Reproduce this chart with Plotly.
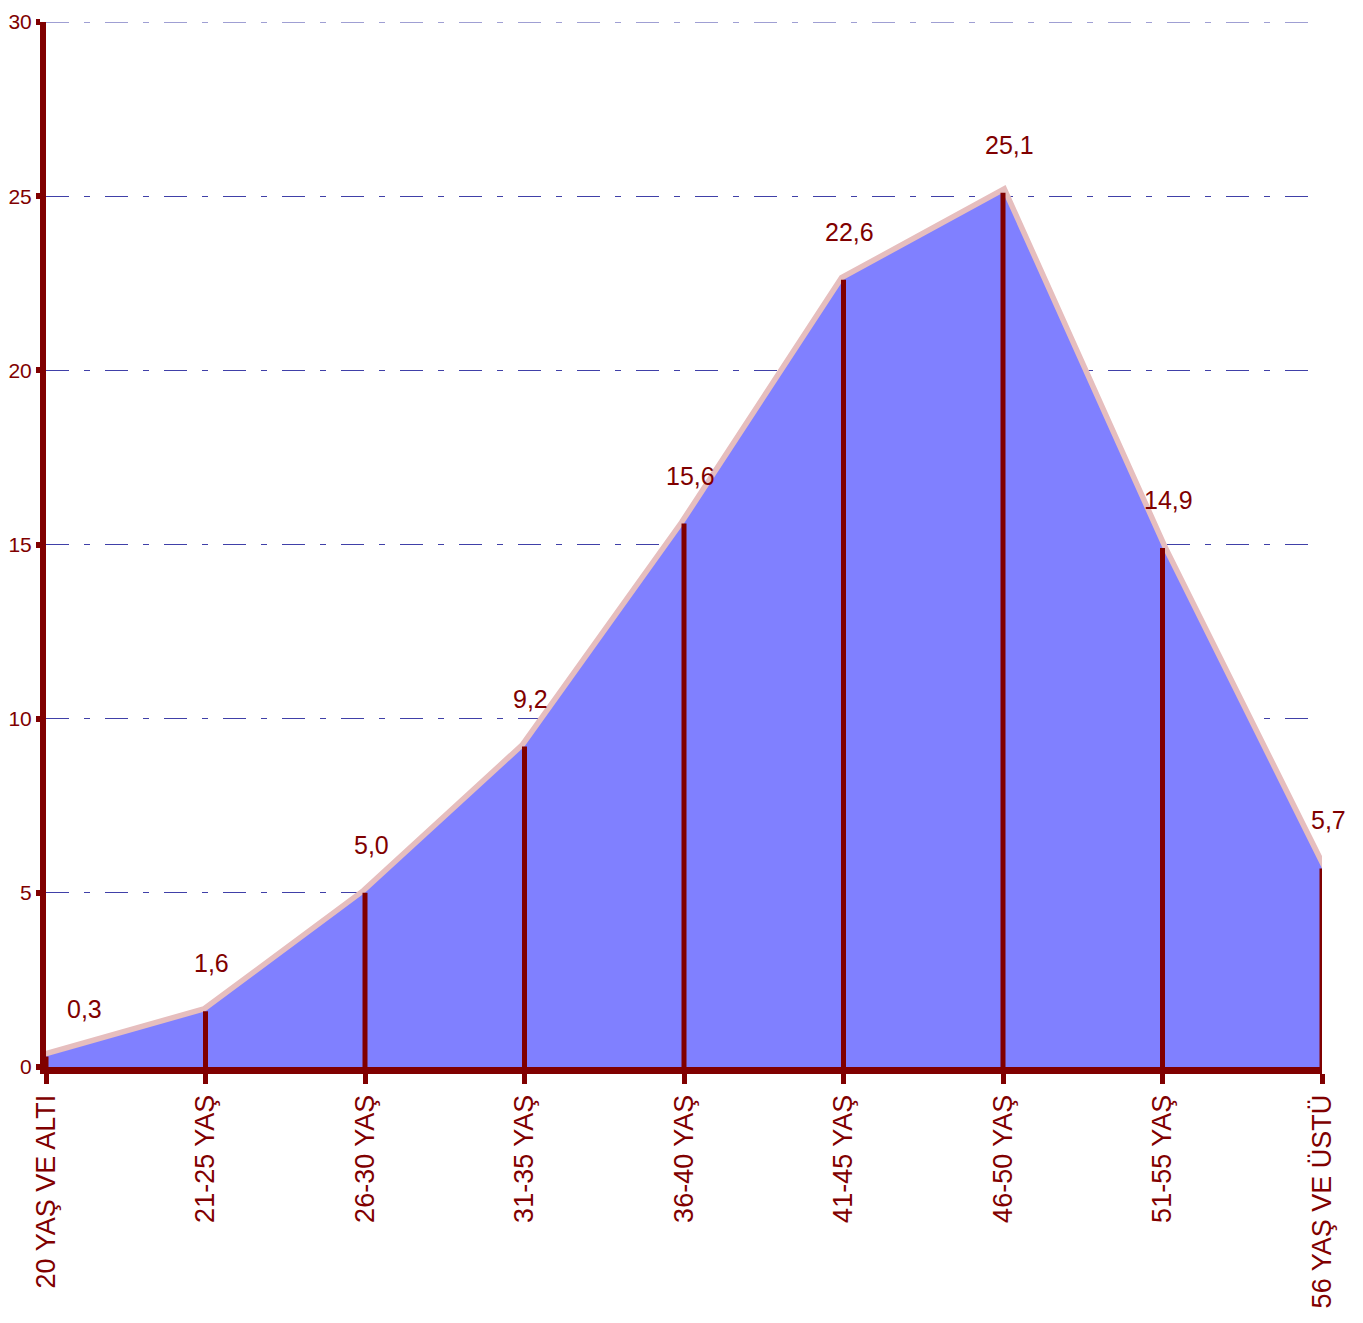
import plotly.graph_objects as go

categories = ["20 YAŞ VE ALTI", "21-25 YAŞ", "26-30 YAŞ", "31-35 YAŞ", "36-40 YAŞ",
              "41-45 YAŞ", "46-50 YAŞ", "51-55 YAŞ", "56 YAŞ VE ÜSTÜ"]
values = [0.3, 1.6, 5.0, 9.2, 15.6, 22.6, 25.1, 14.9, 5.7]
value_labels = ["0,3", "1,6", "5,0", "9,2", "15,6", "22,6", "25,1", "14,9", "5,7"]
y_ticks = [0, 5, 10, 15, 20, 25, 30]

DARK = "#800000"
GRID = "#4040A8"
DASH = "23px,15px,6px,15px"
FONT = "Liberation Sans Narrow, Liberation Sans, Arial"

fig = go.Figure()

# pink hatched top band (drawn first, partly covered by the fill)
fig.add_trace(go.Scatter(x=categories, y=values, mode="lines",
                         line=dict(color="#E6BEBE", width=11), hoverinfo="skip",
                         showlegend=False))
# blue area
fig.add_trace(go.Scatter(x=categories, y=values, mode="lines", fill="tozeroy",
                         fillcolor="#8080FF", line=dict(color="#8080FF", width=0),
                         showlegend=False))
# drop lines
fig.add_trace(go.Scatter(x=categories, y=values, mode="markers",
                         marker=dict(size=1, color="rgba(0,0,0,0)"),
                         error_y=dict(type="data", symmetric=False,
                                      array=[0] * len(values), arrayminus=values,
                                      width=0, thickness=5, color=DARK),
                         showlegend=False, hoverinfo="skip"))

for i, (c, v, t) in enumerate(zip(categories, values, value_labels)):
    fig.add_annotation(x=c, y=v, text=t, showarrow=False, yshift=48,
                       xshift=(38 if i == 0 else 6), yanchor="middle",
                       font=dict(family=FONT, size=25, color=DARK))

# top gridline (plotly omits the gridline on the plot edge)
fig.add_shape(type="line", xref="paper", x0=0, x1=1, yref="y",
              y0=y_ticks[-1], y1=y_ticks[-1], layer="below",
              line=dict(color=GRID, width=1, dash=DASH))

fig.update_layout(
    width=1347, height=1315,
    margin=dict(l=38, r=33, t=14, b=256),
    plot_bgcolor="white", paper_bgcolor="white",
    font=dict(family=FONT, color=DARK, size=24),
)
fig.update_xaxes(type="category", categoryorder="array", categoryarray=categories,
                 range=[0, len(categories) - 1], showgrid=False, automargin=False,
                 showline=True, linecolor=DARK, linewidth=7,
                 ticks="outside", ticklen=10, tickwidth=5, tickcolor=DARK,
                 tickangle=-90, tickfont=dict(family=FONT, size=27, color=DARK),
                 zeroline=False)
fig.update_yaxes(range=[0, 30], tickvals=y_ticks, ticktext=[str(v) for v in y_ticks],
                 showline=True, linecolor=DARK, linewidth=6, automargin=False,
                 ticks="outside", ticklen=4, tickwidth=6, tickcolor=DARK,
                 ticklabeloverflow="allow",
                 showgrid=True, gridcolor=GRID, gridwidth=1, griddash=DASH,
                 zeroline=False, tickfont=dict(family=FONT, size=21, color=DARK))

fig.write_html("out.html")
